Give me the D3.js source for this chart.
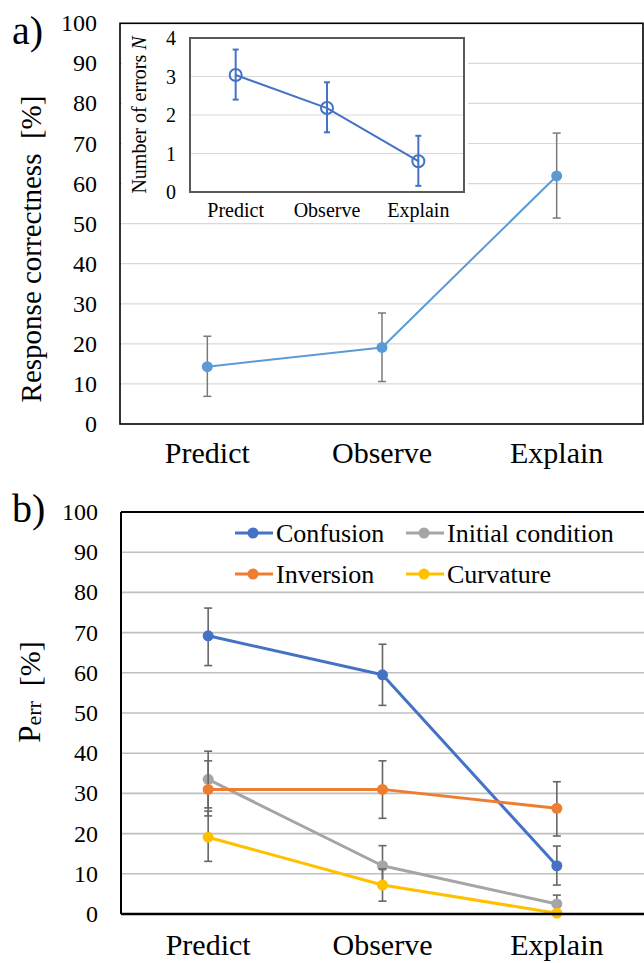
<!DOCTYPE html>
<html>
<head>
<meta charset="utf-8">
<script src="https://cdn.jsdelivr.net/npm/d3@7/dist/d3.min.js"></script>
<style>
  html, body { margin: 0; padding: 0; background: #fff; }
  svg { display: block; }
</style>
</head>
<body>
<svg id="chart" width="644" height="963" style="font-family: 'Liberation Serif', 'Times New Roman', serif;"></svg>
<script>
// ---------- DATA ----------
const categories = ["Predict", "Observe", "Explain"];

// Panel a: response correctness [%]
const correctness      = [14.3, 19.1, 61.9];
const correctnessLow   = [6.9, 10.6, 51.4];
const correctnessHigh  = [21.9, 27.7, 72.6];

// Inset: number of errors N
const errorsN     = [3.04, 2.18, 0.80];
const errorsNLow  = [2.40, 1.55, 0.16];
const errorsNHigh = [3.70, 2.85, 1.46];

// Panel b: P_err [%]
const seriesNames = ["Confusion", "Initial condition", "Inversion", "Curvature"];
const confusion      = [69.2, 59.5, 12.0];
const confusionLow   = [61.8, 51.9, 7.2];
const confusionHigh  = [76.1, 67.1, 16.9];
const initialCond     = [33.5, 12.0, 2.5];
const initialCondLow  = [26.4, 7.0, 0.3];
const initialCondHigh = [40.5, 17.0, 4.7];
const inversion      = [31.0, 31.0, 26.3];
const inversionLow   = [24.4, 23.8, 19.4];
const inversionHigh  = [38.1, 38.1, 32.9];
const curvature      = [19.1, 7.2, 0.2];
const curvatureLow   = [13.1, 3.2, 0.0];
const curvatureHigh  = [25.6, 11.2, 0.4];

const pctTicks = [0, 10, 20, 30, 40, 50, 60, 70, 80, 90, 100];
const insetTicks = [0, 1, 2, 3, 4];

// ---------- DRAW ----------
const svg = d3.select("#chart");
const FONT = "'Liberation Serif', 'Times New Roman', serif";

function txt(sel) { return sel.style("font-family", FONT).attr("fill", "#000"); }

function pts(vals, lo, hi) {
  return categories.map((c, i) => ({ c, v: vals[i], lo: lo[i], hi: hi[i] }));
}

function errorBars(g, x, y, data, color, width, cap) {
  const eb = g.append("g");
  data.forEach(d => {
    const cx = x(d.c) + x.bandwidth() / 2;
    eb.append("line").attr("x1", cx).attr("x2", cx).attr("y1", y(d.lo)).attr("y2", y(d.hi))
      .attr("stroke", color).attr("stroke-width", width);
    [d.lo, d.hi].forEach(v => {
      eb.append("line").attr("x1", cx - cap).attr("x2", cx + cap).attr("y1", y(v)).attr("y2", y(v))
        .attr("stroke", color).attr("stroke-width", width);
    });
  });
}

function series(g, x, y, data, color, lw, r, open) {
  const line = d3.line().x(d => x(d.c) + x.bandwidth() / 2).y(d => y(d.v));
  g.append("path").datum(data).attr("d", line).attr("fill", "none")
    .attr("stroke", color).attr("stroke-width", lw).attr("stroke-linejoin", "round");
  g.selectAll(null).data(data).enter().append("circle")
    .attr("cx", d => x(d.c) + x.bandwidth() / 2).attr("cy", d => y(d.v)).attr("r", r)
    .attr("fill", open ? "none" : color).attr("stroke", color).attr("stroke-width", open ? 2 : 0);
}

// ===== Panel a =====
const A = { left: 120, right: 644, top: 23.3, bottom: 424 };
const xa = d3.scaleBand().domain(categories).range([A.left, A.right]);
const ya = d3.scaleLinear().domain([0, 100]).range([A.bottom, A.top]);
const ga = svg.append("g");

ga.selectAll(null).data(pctTicks.filter(t => t > 0 && t < 100)).enter().append("line")
  .attr("x1", A.left).attr("x2", A.right).attr("y1", d => ya(d)).attr("y2", d => ya(d))
  .attr("stroke", "#d9d9d9").attr("stroke-width", 1.2);

txt(ga.selectAll(null).data(pctTicks).enter().append("text"))
  .attr("x", 97).attr("y", d => ya(d)).attr("text-anchor", "end").attr("dominant-baseline", "central")
  .style("font-size", "24px").text(d => d);

txt(ga.selectAll(null).data(categories).enter().append("text"))
  .attr("x", d => xa(d) + xa.bandwidth() / 2).attr("y", 463).attr("text-anchor", "middle")
  .style("font-size", "30px").text(d => d);

txt(ga.append("text")).attr("transform", "translate(41,249) rotate(-90)").attr("text-anchor", "middle")
  .style("font-size", "29px").style("white-space", "pre").text("Response correctness  [%]");

txt(ga.append("text")).attr("x", 12).attr("y", 44).style("font-size", "40px").text("a)");

const dA = pts(correctness, correctnessLow, correctnessHigh);
errorBars(ga, xa, ya, dA, "#7a7a7a", 1.5, 4);
series(ga, xa, ya, dA, "#5B9BD5", 2, 5.5, false);

// frame
ga.append("rect").attr("x", A.left).attr("y", A.top).attr("width", A.right - A.left - 1)
  .attr("height", A.bottom - A.top).attr("fill", "none").attr("stroke", "#000").attr("stroke-width", 1.6);

// ===== Inset =====
const I = { left: 190, right: 464, top: 38, bottom: 192 };
const gi = svg.append("g");
gi.append("rect").attr("x", 122).attr("y", 25).attr("width", 346).attr("height", 193).attr("fill", "#fff");
const xi = d3.scaleBand().domain(categories).range([I.left, I.right]);
const yi = d3.scaleLinear().domain([0, 4]).range([I.bottom, I.top]);

gi.selectAll(null).data(insetTicks.filter(t => t > 0 && t < 4)).enter().append("line")
  .attr("x1", I.left).attr("x2", I.right).attr("y1", d => yi(d)).attr("y2", d => yi(d))
  .attr("stroke", "#d9d9d9").attr("stroke-width", 1.2);

txt(gi.selectAll(null).data(insetTicks).enter().append("text"))
  .attr("x", 176).attr("y", d => yi(d)).attr("text-anchor", "end").attr("dominant-baseline", "central")
  .style("font-size", "20px").text(d => d);

txt(gi.selectAll(null).data(categories).enter().append("text"))
  .attr("x", d => xi(d) + xi.bandwidth() / 2).attr("y", 217).attr("text-anchor", "middle")
  .style("font-size", "20px").text(d => d);

const yl = txt(gi.append("text")).attr("transform", "translate(146,115) rotate(-90)").attr("text-anchor", "middle")
  .style("font-size", "20px").style("white-space", "pre");
yl.append("tspan").text("Number of errors ");
yl.append("tspan").style("font-style", "italic").text("N");

const dI = pts(errorsN, errorsNLow, errorsNHigh);
errorBars(gi, xi, yi, dI, "#4472C4", 2, 3);
series(gi, xi, yi, dI, "#4472C4", 2, 6, true);

gi.append("rect").attr("x", I.left).attr("y", I.top).attr("width", I.right - I.left)
  .attr("height", I.bottom - I.top).attr("fill", "none").attr("stroke", "#595959").attr("stroke-width", 2);

// ===== Panel b =====
const B = { left: 121, right: 644, top: 512, bottom: 914 };
const xb = d3.scaleBand().domain(categories).range([B.left, B.right]);
const yb = d3.scaleLinear().domain([0, 100]).range([B.bottom, B.top]);
const gb = svg.append("g");

gb.selectAll(null).data(pctTicks.filter(t => t > 0 && t < 100)).enter().append("line")
  .attr("x1", B.left).attr("x2", B.right).attr("y1", d => yb(d)).attr("y2", d => yb(d))
  .attr("stroke", "#bfbfbf").attr("stroke-width", 1.6);

txt(gb.selectAll(null).data(pctTicks).enter().append("text"))
  .attr("x", 98).attr("y", d => yb(d)).attr("text-anchor", "end").attr("dominant-baseline", "central")
  .style("font-size", "24px").text(d => d);

txt(gb.selectAll(null).data(categories).enter().append("text"))
  .attr("x", d => xb(d) + xb.bandwidth() / 2).attr("y", 955).attr("text-anchor", "middle")
  .style("font-size", "30px").text(d => d);

const pl = txt(gb.append("text")).attr("transform", "translate(40,692) rotate(-90)").attr("text-anchor", "middle")
  .style("white-space", "pre");
pl.append("tspan").style("font-size", "31px").text("P");
pl.append("tspan").style("font-size", "22px").attr("dy", 1).text("err");
pl.append("tspan").style("font-size", "30px").attr("dy", -1).text("  [%]");

txt(gb.append("text")).attr("x", 12).attr("y", 522).style("font-size", "40px").text("b)");

const colorsB = ["#4472C4", "#A5A5A5", "#ED7D31", "#FFC000"];
const dataB = [
  pts(confusion, confusionLow, confusionHigh),
  pts(initialCond, initialCondLow, initialCondHigh),
  pts(inversion, inversionLow, inversionHigh),
  pts(curvature, curvatureLow, curvatureHigh)
];
dataB.forEach((d, i) => {
  errorBars(gb, xb, yb, d, "#666666", 1.6, 4);
  series(gb, xb, yb, d, colorsB[i], 3, 5.5, false);
});

// frame: left + top, bottom axis thick
gb.append("line").attr("x1", B.left).attr("x2", B.right).attr("y1", B.top).attr("y2", B.top)
  .attr("stroke", "#000").attr("stroke-width", 2);
gb.append("line").attr("x1", B.left).attr("x2", B.left).attr("y1", B.top).attr("y2", B.bottom)
  .attr("stroke", "#000").attr("stroke-width", 2);
gb.append("line").attr("x1", B.left).attr("x2", B.right).attr("y1", B.bottom).attr("y2", B.bottom)
  .attr("stroke", "#000").attr("stroke-width", 2.5);

// legend
const legendPos = [[235, 533], [406, 533], [235, 574], [406, 574]];
seriesNames.forEach((name, i) => {
  const [lx, ly] = legendPos[i];
  const lg = gb.append("g");
  lg.append("line").attr("x1", lx).attr("x2", lx + 38).attr("y1", ly).attr("y2", ly)
    .attr("stroke", colorsB[i]).attr("stroke-width", 3);
  lg.append("circle").attr("cx", lx + 18).attr("cy", ly).attr("r", 5.5).attr("fill", colorsB[i]);
  txt(lg.append("text")).attr("x", lx + 41).attr("y", ly).attr("dominant-baseline", "central")
    .style("font-size", "26px").text(name);
});
</script>
</body>
</html>
